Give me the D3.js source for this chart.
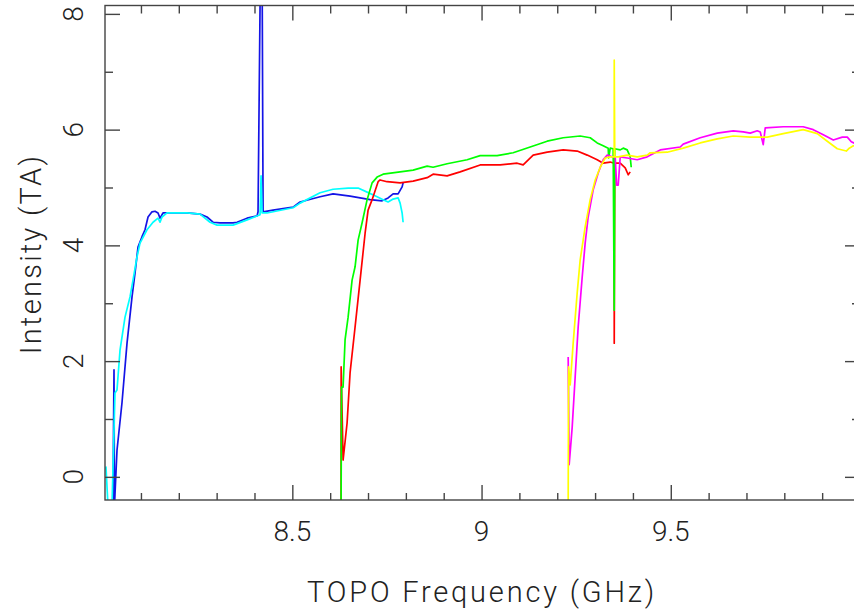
<!DOCTYPE html>
<html><head><meta charset="utf-8">
<script src="https://cdn.jsdelivr.net/npm/d3@7"></script>
<style>body{margin:0;background:#fff} svg{display:block} text{font-family:Roboto,"DejaVu Sans",sans-serif;font-weight:300;fill:#222}</style>
</head><body><svg id="c" width="854" height="615"></svg>
<script>
// ---- Data ----
const xLabel = "TOPO Frequency (GHz)";
const yLabel = "Intensity (TA)";
const xMajorTicks = [8.5, 9, 9.5];
const xMinorTicks = [8.1, 8.2, 8.3, 8.4, 8.6, 8.7, 8.8, 8.9, 9.1, 9.2, 9.3, 9.4, 9.6, 9.7, 9.8, 9.9];
const yMajorTicks = [0, 2, 4, 6, 8];
const yMinorTicks = [1, 3, 5, 7];
const xTickLabels = ["8.5", "9", "9.5"];
const yTickLabels = ["0", "2", "4", "6", "8"];

const blueSeries = [[8.026,-0.5],[8.0288,1.85],[8.0300,-0.5],[8.0314,-0.3],[8.0367,0.46],[8.0499,1.28],[8.0632,2.31],[8.0764,3.11],[8.0843,3.52],[8.0922,3.97],[8.1028,4.15],[8.1107,4.27],[8.1187,4.49],[8.1292,4.58],[8.1372,4.59],[8.1451,4.56],[8.1504,4.47],[8.1583,4.56],[8.1689,4.56],[8.2218,4.56],[8.2561,4.54],[8.2746,4.49],[8.2905,4.40],[8.3090,4.39],[8.3434,4.39],[8.3539,4.40],[8.3804,4.47],[8.4068,4.51],[8.4094,4.58],[8.4160,9.0],[8.4200,9.0],[8.4227,4.58],[8.4491,4.61],[8.5020,4.66],[8.5205,4.75],[8.5733,4.84],[8.6077,4.89],[8.6526,4.85],[8.6791,4.82],[8.7055,4.79],[8.7372,4.77],[8.7531,4.82],[8.7663,4.89],[8.7795,4.89],[8.7901,5.01],[8.7927,5.08]];
const cyanSeries = [[8.0060,0.12],[8.0076,0.17],[8.0129,-0.5],[8.0235,-0.5],[8.0314,1.45],[8.0367,1.50],[8.0447,2.19],[8.0579,2.76],[8.0711,3.11],[8.0790,3.40],[8.0896,3.80],[8.0975,4.04],[8.1160,4.27],[8.1319,4.40],[8.1451,4.47],[8.1504,4.40],[8.1557,4.49],[8.1689,4.56],[8.2218,4.56],[8.2561,4.54],[8.2826,4.40],[8.3011,4.35],[8.3434,4.35],[8.3804,4.44],[8.4147,4.53],[8.4174,5.2],[8.4200,4.56],[8.4332,4.56],[8.5020,4.65],[8.5205,4.73],[8.5733,4.91],[8.6077,4.97],[8.6474,4.99],[8.6738,4.99],[8.6976,4.92],[8.7240,4.84],[8.7399,4.79],[8.7531,4.75],[8.7663,4.80],[8.7795,4.82],[8.7848,4.73],[8.7901,4.56],[8.7927,4.40]];
const redSeries = [[8.6288,-0.5],[8.6290,1.90],[8.6341,0.29],[8.6447,0.93],[8.6526,1.80],[8.6658,2.59],[8.6791,3.40],[8.6923,4.21],[8.7002,4.61],[8.7108,4.79],[8.7267,5.10],[8.7319,5.13],[8.7504,5.10],[8.7848,5.08],[8.8192,5.11],[8.8562,5.17],[8.8720,5.23],[8.9090,5.20],[8.9434,5.27],[8.9963,5.39],[9.0491,5.39],[9.0941,5.42],[9.1099,5.39],[9.1364,5.56],[9.1734,5.61],[9.2157,5.65],[9.2527,5.63],[9.2791,5.56],[9.3055,5.48],[9.3214,5.42],[9.3399,5.44],[9.3505,5.42],[9.3506,2.31],[9.3520,5.42],[9.3664,5.42],[9.3796,5.34],[9.3875,5.22],[9.3928,5.27]];
const greenSeries = [[8.6288,-0.5],[8.6300,1.55],[8.6341,1.55],[8.6394,2.37],[8.6474,2.76],[8.6579,3.40],[8.6658,3.63],[8.6738,4.09],[8.6844,4.39],[8.6976,4.79],[8.7108,5.08],[8.7240,5.18],[8.7399,5.23],[8.7848,5.27],[8.8192,5.30],[8.8562,5.37],[8.8720,5.35],[8.9090,5.41],[8.9619,5.48],[8.9963,5.55],[9.0412,5.55],[9.0835,5.60],[9.1285,5.70],[9.1734,5.80],[9.2157,5.86],[9.2606,5.89],[9.2870,5.86],[9.3055,5.77],[9.3214,5.72],[9.3346,5.68],[9.3360,5.51],[9.3400,5.68],[9.3478,5.67],[9.3505,2.88],[9.3520,5.67],[9.3664,5.65],[9.3743,5.68],[9.3849,5.65],[9.3928,5.53],[9.3955,5.35]];
const magentaSeries = [[9.2289,2.07],[9.2315,0.21],[9.2395,0.86],[9.2474,1.73],[9.2553,2.59],[9.2659,3.45],[9.2738,4.04],[9.2817,4.49],[9.2950,4.96],[9.3082,5.25],[9.3214,5.48],[9.3320,5.56],[9.3452,5.53],[9.3531,5.53],[9.3570,5.04],[9.3611,5.04],[9.3664,5.53],[9.3849,5.51],[9.4113,5.48],[9.4377,5.53],[9.4721,5.65],[9.5250,5.70],[9.5329,5.75],[9.5778,5.86],[9.6228,5.94],[9.6651,5.98],[9.6915,5.96],[9.7100,5.94],[9.7285,5.98],[9.7364,5.96],[9.7443,5.74],[9.7496,6.03],[9.7972,6.05],[9.8500,6.05],[9.8765,6.00],[9.9030,5.91],[9.9294,5.82],[9.9532,5.87],[9.9664,5.87],[9.9770,5.79],[9.9900,5.75]];
const yellowSeries = [[9.2289,-0.5],[9.2300,1.90],[9.2342,1.59],[9.2421,2.31],[9.2527,3.18],[9.2606,3.75],[9.2738,4.32],[9.2870,4.79],[9.3003,5.13],[9.3135,5.35],[9.3267,5.51],[9.3399,5.53],[9.3505,5.53],[9.3506,7.20],[9.3520,5.53],[9.3611,5.53],[9.3849,5.56],[9.4113,5.53],[9.4377,5.56],[9.4457,5.60],[9.4906,5.61],[9.5329,5.68],[9.5778,5.77],[9.6228,5.84],[9.6651,5.89],[9.7100,5.87],[9.7549,5.87],[9.7972,5.93],[9.8500,6.00],[9.8871,5.93],[9.9135,5.80],[9.9400,5.67],[9.9638,5.63],[9.9717,5.68],[9.9823,5.72],[9.9900,5.72]];

const seriesList = [
  {data: blueSeries, color: "#1414e6"},
  {data: cyanSeries, color: "#00ffff"},
  {data: redSeries, color: "#ff0000"},
  {data: greenSeries, color: "#00ff00"},
  {data: magentaSeries, color: "#ff00ff"},
  {data: yellowSeries, color: "#ffff00"}
];

// ---- Layout ----
const L = 105, R = 860, T = 5.5, B = 500;
const svg = d3.select("#c");
const x = d3.scaleLinear().domain([8.005, 10.0]).range([L, R]);
const y = d3.scaleLinear().domain([-0.4, 8.145]).range([B, T]);

svg.append("defs").append("clipPath").attr("id","clip")
  .append("rect").attr("x", L).attr("y", T).attr("width", R - L).attr("height", B - T);

const line = d3.line().x(d => x(d[0])).y(d => y(d[1]));
const plot = svg.append("g").attr("clip-path", "url(#clip)");
seriesList.forEach(s => {
  plot.append("path").datum(s.data).attr("d", line)
    .attr("fill", "none").attr("stroke", s.color).attr("stroke-width", 1.7)
    .attr("stroke-linejoin", "round");
});

// ---- Axes ----
const axCol = "#444";
function styleAxis(g){ g.select(".domain").remove(); g.selectAll("line").attr("stroke", axCol).attr("stroke-width", 1.4); g.selectAll("text").remove(); }
svg.append("g").attr("transform", `translate(0,${B})`).call(d3.axisBottom(x).tickValues(xMajorTicks).tickSize(-15)).call(styleAxis);
svg.append("g").attr("transform", `translate(0,${B})`).call(d3.axisBottom(x).tickValues(xMinorTicks).tickSize(-7)).call(styleAxis);
svg.append("g").attr("transform", `translate(0,${T})`).call(d3.axisTop(x).tickValues(xMajorTicks).tickSize(-15)).call(styleAxis);
svg.append("g").attr("transform", `translate(0,${T})`).call(d3.axisTop(x).tickValues(xMinorTicks).tickSize(-8)).call(styleAxis);
svg.append("g").attr("transform", `translate(${L},0)`).call(d3.axisLeft(y).tickValues(yMajorTicks).tickSize(-15)).call(styleAxis);
svg.append("g").attr("transform", `translate(${L},0)`).call(d3.axisLeft(y).tickValues(yMinorTicks).tickSize(-8)).call(styleAxis);
svg.append("g").attr("transform", `translate(${R},0)`).call(d3.axisRight(y).tickValues(yMajorTicks).tickSize(-15)).call(styleAxis);
svg.append("g").attr("transform", `translate(${R},0)`).call(d3.axisRight(y).tickValues(yMinorTicks).tickSize(-8)).call(styleAxis);

svg.append("rect").attr("x", L).attr("y", T).attr("width", R - L).attr("height", B - T)
  .attr("fill", "none").attr("stroke", axCol).attr("stroke-width", 1.4);

// tick labels
const fs = 28;
svg.selectAll(".xtl").data(xMajorTicks).enter().append("text")
  .attr("x", d => x(d)).attr("y", 541).attr("text-anchor", "middle")
  .attr("font-size", fs).text((d,i) => xTickLabels[i]);
svg.selectAll(".ytl").data(yMajorTicks).enter().append("text")
  .attr("transform", d => `translate(83,${y(d)}) rotate(-90)`).attr("text-anchor", "middle")
  .attr("font-size", fs).text((d,i) => yTickLabels[i]);

// axis titles
const xt = svg.append("text").attr("x", 482).attr("y", 602).attr("text-anchor", "middle")
  .attr("font-size", 29).text(xLabel);
const yt = svg.append("text").attr("transform", "translate(41,254) rotate(-90)").attr("text-anchor", "middle")
  .attr("font-size", 29).text(yLabel);
function fitWidth(t, target){
  const w = t.node().getComputedTextLength();
  const n = t.text().length;
  t.attr("letter-spacing", ((target - w) / (n - 1)).toFixed(2));
}
fitWidth(xt, 347);
fitWidth(yt, 198);
</script></body></html>
